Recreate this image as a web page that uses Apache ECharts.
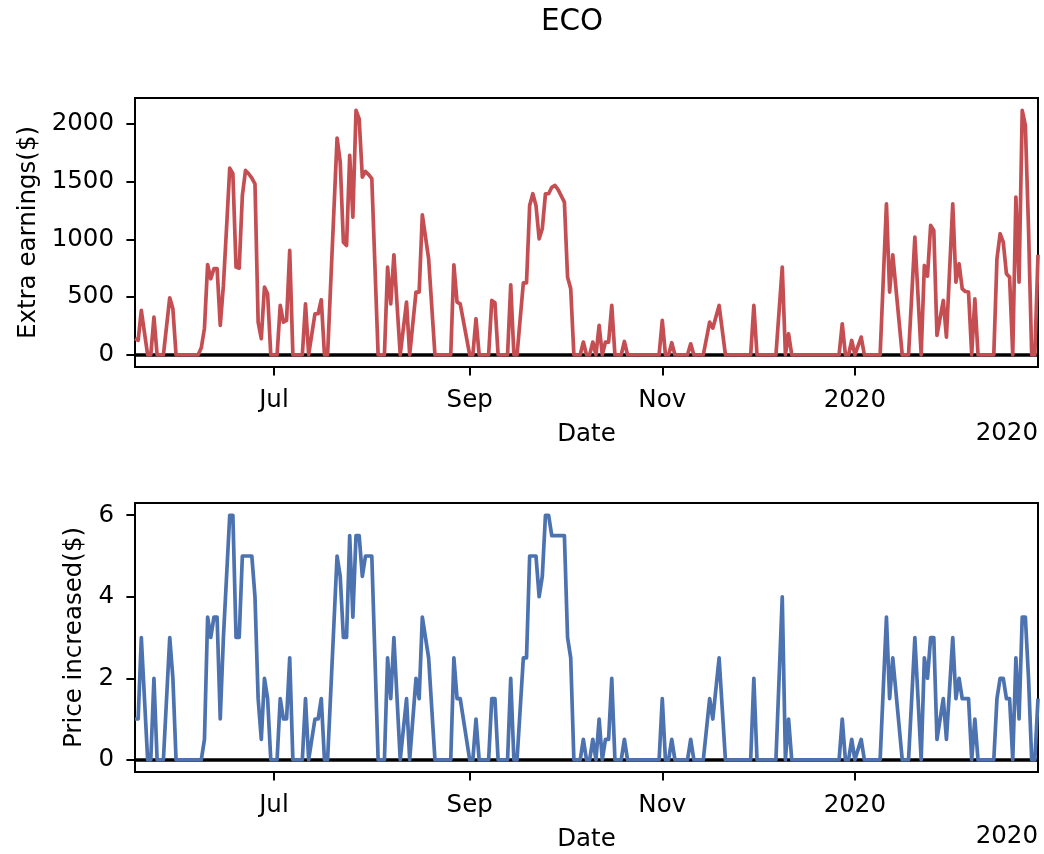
<!DOCTYPE html>
<html>
<head>
<meta charset="utf-8">
<script src="https://cdn.jsdelivr.net/npm/echarts@6/dist/echarts.min.js"></script>
<style>
html,body{margin:0;padding:0;background:#fff;}
#chart{width:1044px;height:854px;}
</style>
</head>
<body>
<div id="chart"></div>
<script>
// ---- data ----
const dates = [
'2019-05-18','2019-05-19','2019-05-20','2019-05-22','2019-05-23','2019-05-24','2019-05-25','2019-05-27','2019-05-29','2019-05-30','2019-05-31',
'2019-06-07','2019-06-08','2019-06-09','2019-06-10','2019-06-11','2019-06-12','2019-06-13','2019-06-14','2019-06-15','2019-06-16','2019-06-17','2019-06-18','2019-06-19','2019-06-20','2019-06-21','2019-06-22','2019-06-23','2019-06-24','2019-06-25','2019-06-26','2019-06-27','2019-06-28','2019-06-29','2019-06-30',
'2019-07-02','2019-07-03','2019-07-04','2019-07-05','2019-07-06','2019-07-07','2019-07-10','2019-07-11','2019-07-12','2019-07-14','2019-07-15','2019-07-16','2019-07-17','2019-07-18','2019-07-21','2019-07-22','2019-07-23','2019-07-24','2019-07-25','2019-07-26','2019-07-27','2019-07-28','2019-07-29','2019-07-30','2019-07-31',
'2019-08-01','2019-08-03','2019-08-05','2019-08-06','2019-08-07','2019-08-08','2019-08-10','2019-08-12','2019-08-13','2019-08-15','2019-08-16','2019-08-17','2019-08-19','2019-08-21','2019-08-26','2019-08-27','2019-08-28','2019-08-29',
'2019-09-01','2019-09-02','2019-09-03','2019-09-04','2019-09-07','2019-09-08','2019-09-09','2019-09-10','2019-09-13','2019-09-14','2019-09-15','2019-09-16','2019-09-18','2019-09-19','2019-09-20','2019-09-21','2019-09-22','2019-09-23','2019-09-24','2019-09-25','2019-09-26','2019-09-27','2019-09-28','2019-09-29',
'2019-10-01','2019-10-02','2019-10-03','2019-10-04','2019-10-06','2019-10-07','2019-10-08','2019-10-09','2019-10-10','2019-10-11','2019-10-12','2019-10-13','2019-10-14','2019-10-15','2019-10-16','2019-10-17','2019-10-19','2019-10-20','2019-10-21','2019-10-31',
'2019-11-01','2019-11-02','2019-11-03','2019-11-04','2019-11-05','2019-11-09','2019-11-10','2019-11-11','2019-11-14','2019-11-16','2019-11-17','2019-11-19','2019-11-21','2019-11-29','2019-11-30',
'2019-12-01','2019-12-07','2019-12-09','2019-12-10','2019-12-11','2019-12-12','2019-12-27','2019-12-28','2019-12-29','2019-12-30','2019-12-31',
'2020-01-01','2020-01-03','2020-01-04','2020-01-09','2020-01-11','2020-01-12','2020-01-13','2020-01-16','2020-01-18','2020-01-20','2020-01-22','2020-01-23','2020-01-24','2020-01-25','2020-01-26','2020-01-27','2020-01-29','2020-01-30',
'2020-02-01','2020-02-02','2020-02-03','2020-02-04','2020-02-05','2020-02-06','2020-02-07','2020-02-08','2020-02-09','2020-02-14','2020-02-15','2020-02-16','2020-02-17','2020-02-18','2020-02-19','2020-02-20','2020-02-21','2020-02-22','2020-02-23','2020-02-24','2020-02-25','2020-02-26','2020-02-27','2020-02-28'
];
const earnings = [
139,124,384,0,0,326,0,0,493,398,0,
0,60,230,780,658,745,745,254,600,1100,1616,1567,759,750,1379,1596,1567,1530,1480,283,139,586,528,0,
0,427,283,297,903,0,0,441,0,355,355,476,0,0,1876,1668,975,946,1726,1192,2115,2043,1538,1587,1560,
1524,0,0,759,441,866,0,456,0,543,543,1212,831,0,0,779,456,441,
0,0,312,0,0,470,450,0,0,606,0,0,623,623,1293,1394,1293,1004,1091,1394,1394,1450,1466,1430,
1322,672,571,0,0,110,0,0,110,0,254,0,110,110,427,0,0,115,0,0,
297,0,0,104,0,0,95,0,0,283,230,427,0,0,427,
0,0,759,0,182,0,0,268,0,0,124,
0,153,0,0,1307,543,866,0,0,1019,0,773,680,1120,1076,167,470,153,
1307,629,788,571,548,543,0,485,0,0,831,1048,975,701,672,0,1365,629,2115,1986,1091,0,0,866
];
const priceIncreased = [
1.0,1.0,3.0,0,0,2.0,0,0,3.0,2.0,0,
0,0,0.5,3.5,3.0,3.5,3.5,1.0,3.0,4.5,6.0,6.0,3.0,3.0,5.0,5.0,5.0,5.0,4.0,1.5,0.5,2.0,1.5,0,
0,1.5,1.0,1.0,2.5,0,0,1.5,0,1.0,1.0,1.5,0,0,5.0,4.5,3.0,3.0,5.5,3.5,5.5,5.5,4.5,5.0,5.0,
5.0,0,0,2.5,1.5,3.0,0,1.5,0,2.0,1.5,3.5,2.5,0,0,2.5,1.5,1.5,
0,0,1.0,0,0,1.5,1.5,0,0,2.0,0,0,2.5,2.5,5.0,5.0,5.0,4.0,4.5,6.0,6.0,5.5,5.5,5.5,
5.5,3.0,2.5,0,0,0.5,0,0,0.5,0,1.0,0,0.5,0.5,2.0,0,0,0.5,0,0,
1.5,0,0,0.5,0,0,0.5,0,0,1.5,1.0,2.5,0,0,2.0,
0,0,4.0,0,1.0,0,0,1.0,0,0,0.5,
0,0.5,0,0,3.5,1.5,2.5,0,0,3.0,0,2.5,2.0,3.0,3.0,0.5,1.5,0.5,
3.0,1.5,2.0,1.5,1.5,1.5,0,1.0,0,0,1.5,2.0,2.0,1.5,1.5,0,2.5,1.0,3.5,3.5,2.0,0,0,1.5
];
const xTickDates = ['2019-07-01','2019-09-01','2019-11-01','2020-01-01'];
const xTickLabels = ['Jul','Sep','Nov','2020'];
const earnTicks = [0,500,1000,1500,2000];
const priceTicks = [0,2,4,6];
const titleText = 'ECO';
const offsetText = '2020';

// ---- build ----
function ts(s){ const p = s.split('-').map(Number); return Date.UTC(p[0], p[1]-1, p[2]); }
const xTickValues = xTickDates.map(ts);
const xMin = ts(dates[0]), xMax = ts(dates[dates.length-1]);
const redData = dates.map((d,i)=>[ts(d), earnings[i]]);
const blueData = dates.map((d,i)=>[ts(d), priceIncreased[i]]);

const FONT = 'DejaVu Sans';
const FS = 24.5;
const txt = {color:'#000', fontFamily: FONT, fontSize: FS};

function xAxisCfg(gridIndex){
  return {
    type:'value', gridIndex, min:xMin, max:xMax, scale:true,
    name:'Date', nameLocation:'middle', nameGap:55, nameTextStyle: txt,
    axisLine:{show:true, onZero:false, lineStyle:{color:'#000', width:2}},
    axisTick:{show:true, customValues:xTickValues, length:8.6, lineStyle:{color:'#000', width:2}},
    axisLabel:Object.assign({show:true, customValues:xTickValues, margin:21,
      formatter:function(v){ const i = xTickValues.indexOf(v); return i>=0 ? xTickLabels[i] : ''; }}, txt),
    splitLine:{show:false}, minorTick:{show:false}
  };
}
function yAxisCfg(gridIndex, name, min, max, ticks, gap){
  return {
    type:'value', gridIndex, min, max, scale:true,
    name, nameLocation:'middle', nameGap:gap, nameTextStyle: txt,
    axisLine:{show:true, onZero:false, lineStyle:{color:'#000', width:2}},
    axisTick:{show:true, customValues:ticks, length:8.6, lineStyle:{color:'#000', width:2}},
    axisLabel:Object.assign({show:true, customValues:ticks, margin:21,
      formatter:function(v){ return String(v); }}, txt),
    splitLine:{show:false}
  };
}
function zeroSeries(xi, yi, data){
  return {
    type:'line', xAxisIndex:xi, yAxisIndex:yi, data, symbol:'none', silent:true, z:1,
    lineStyle:{opacity:0},
    markLine:{silent:true, symbol:['none','none'], z:1, label:{show:false},
      lineStyle:{color:'#000', width:3.7, type:'solid'},
      data:[{yAxis:0}]}
  };
}

const chart = echarts.init(document.getElementById('chart'), null, {renderer:'canvas'});
chart.setOption({
  animation:false,
  backgroundColor:'#fff',
  grid:[
    {left:135, right:6, top:98, height:269, show:true, borderColor:'#000', borderWidth:2, backgroundColor:'transparent'},
    {left:135, right:6, top:503, height:269, show:true, borderColor:'#000', borderWidth:2, backgroundColor:'transparent'}
  ],
  xAxis:[xAxisCfg(0), xAxisCfg(1)],
  yAxis:[
    yAxisCfg(0, 'Extra earnings($)', -106, 2223, earnTicks, 94),
    yAxisCfg(1, 'Price increased($)', -0.3, 6.3, priceTicks, 45)
  ],
  graphic:[
    {type:'text', x:572, y:22, style:{text:titleText, fill:'#000', font:'29.4px "DejaVu Sans"', align:'center', verticalAlign:'middle'}},
    {type:'text', x:1038, y:434, style:{text:offsetText, fill:'#000', font:FS+'px "DejaVu Sans"', align:'right', verticalAlign:'middle'}},
    {type:'text', x:1038, y:837, style:{text:offsetText, fill:'#000', font:FS+'px "DejaVu Sans"', align:'right', verticalAlign:'middle'}}
  ],
  series:[
    zeroSeries(0,0,redData),
    {type:'line', xAxisIndex:0, yAxisIndex:0, data:redData, symbol:'none', z:3,
      lineStyle:{color:'#c44e52', width:3.7, join:'round'}},
    zeroSeries(1,1,blueData),
    {type:'line', xAxisIndex:1, yAxisIndex:1, data:blueData, symbol:'none', z:3,
      lineStyle:{color:'#4c72b0', width:3.7, join:'round'}}
  ]
});
</script>
</body>
</html>
